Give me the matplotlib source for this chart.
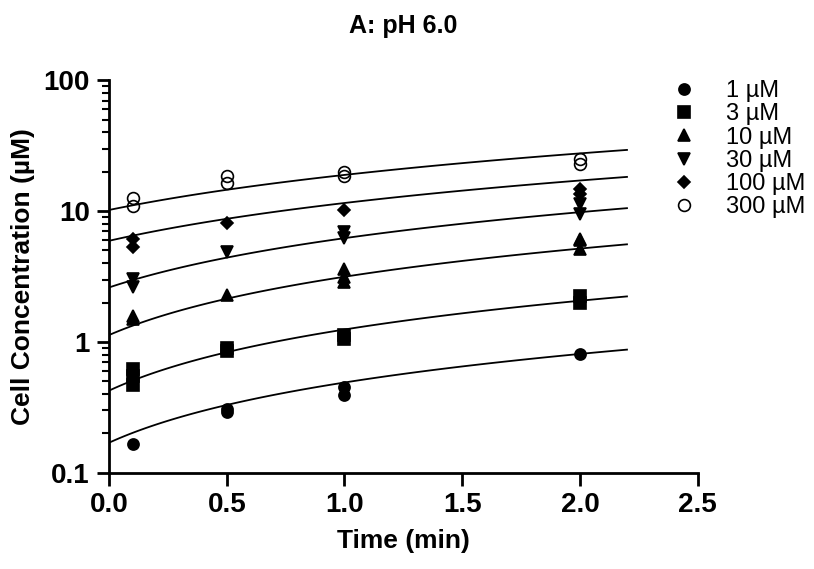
import numpy as np
import matplotlib.pyplot as plt

plt.rcParams["font.family"] = ["Liberation Sans", "DejaVu Sans"]

labels = ["1 µM", "3 µM", "10 µM", "30 µM", "100 µM", "300 µM"]
markers = ["o", "s", "^", "v", "D", "o"]
sizes = [8, 8, 8, 8, 6.5, 8.5]

# measured points (time in min, concentration in µM)
t_pts = [
    [0.1, 0.5, 0.5, 1.0, 1.0, 2.0],
    [0.1, 0.1, 0.1, 0.5, 0.5, 1.0, 1.0, 2.0, 2.0],
    [0.1, 0.1, 0.5, 1.0, 1.0, 1.0, 2.0, 2.0, 2.0],
    [0.1, 0.1, 0.5, 1.0, 1.0, 2.0, 2.0],
    [0.1, 0.1, 0.5, 1.0, 2.0, 2.0],
    [0.1, 0.1, 0.5, 0.5, 1.0, 1.0, 2.0, 2.0],
]
c_pts = [
    [0.166, 0.31, 0.29, 0.45, 0.39, 0.81],
    [0.62, 0.55, 0.47, 0.90, 0.85, 1.13, 1.05, 2.26, 2.0],
    [1.59, 1.50, 2.29, 3.6, 3.12, 2.85, 5.1, 6.0, 6.1],
    [3.03, 2.62, 4.9, 6.96, 6.2, 9.5, 11.3],
    [6.1, 5.3, 8.1, 10.2, 14.7, 13.5],
    [12.6, 10.9, 18.4, 16.5, 20.0, 18.4, 24.9, 22.8],
]
# fitted lines: c = intercept + slope * t
intercepts = [0.17, 0.425, 1.13, 2.61, 5.93, 10.2]
slopes = [0.32, 0.82, 2.02, 3.6, 5.6, 8.7]

fig = plt.figure(figsize=(8.14, 5.69), dpi=100)
ax = fig.add_axes([0.134, 0.169, 0.723, 0.69])

tt = np.linspace(0, 2.2, 100)
for i in range(len(labels)):
    face = "none" if i == 5 else "black"
    ax.plot(t_pts[i], c_pts[i], linestyle="none", marker=markers[i], ms=sizes[i],
            mfc=face, mec="black", mew=1.2, label=labels[i], clip_on=False)
    ax.plot(tt, intercepts[i] + slopes[i] * tt, color="black", lw=1.3)

ax.set_yscale("log")
ax.set_ylim(0.1, 100)
ax.set_xlim(0, 2.5)
ax.set_xticks([0, 0.5, 1.0, 1.5, 2.0, 2.5])
ax.set_yticks([0.1, 1, 10, 100])
ax.set_yticklabels(["0.1", "1", "10", "100"])
ax.spines["top"].set_visible(False)
ax.spines["right"].set_visible(False)
for s in ["left", "bottom"]:
    ax.spines[s].set_linewidth(2)
ax.tick_params(width=2, length=9, labelsize=20, pad=5)
ax.tick_params(which="minor", width=1.5, length=5)
for lab in ax.get_xticklabels() + ax.get_yticklabels():
    lab.set_fontweight("bold")
ax.set_xlabel("Time (min)", fontsize=19, fontweight="bold", labelpad=8)
ax.set_ylabel("Cell Concentration (µM)", fontsize=19, fontweight="bold", labelpad=6)
fig.text(0.495, 0.955, "A: pH 6.0", ha="center", va="center", fontsize=18,
         fontweight="bold")

ax.legend(loc="upper left", bbox_to_anchor=(0.956, 1.0), frameon=False,
          fontsize=17, handlelength=1.0, handletextpad=1.3, labelspacing=0.05,
          borderaxespad=0, borderpad=0)

fig.savefig("out.png", dpi=100)
